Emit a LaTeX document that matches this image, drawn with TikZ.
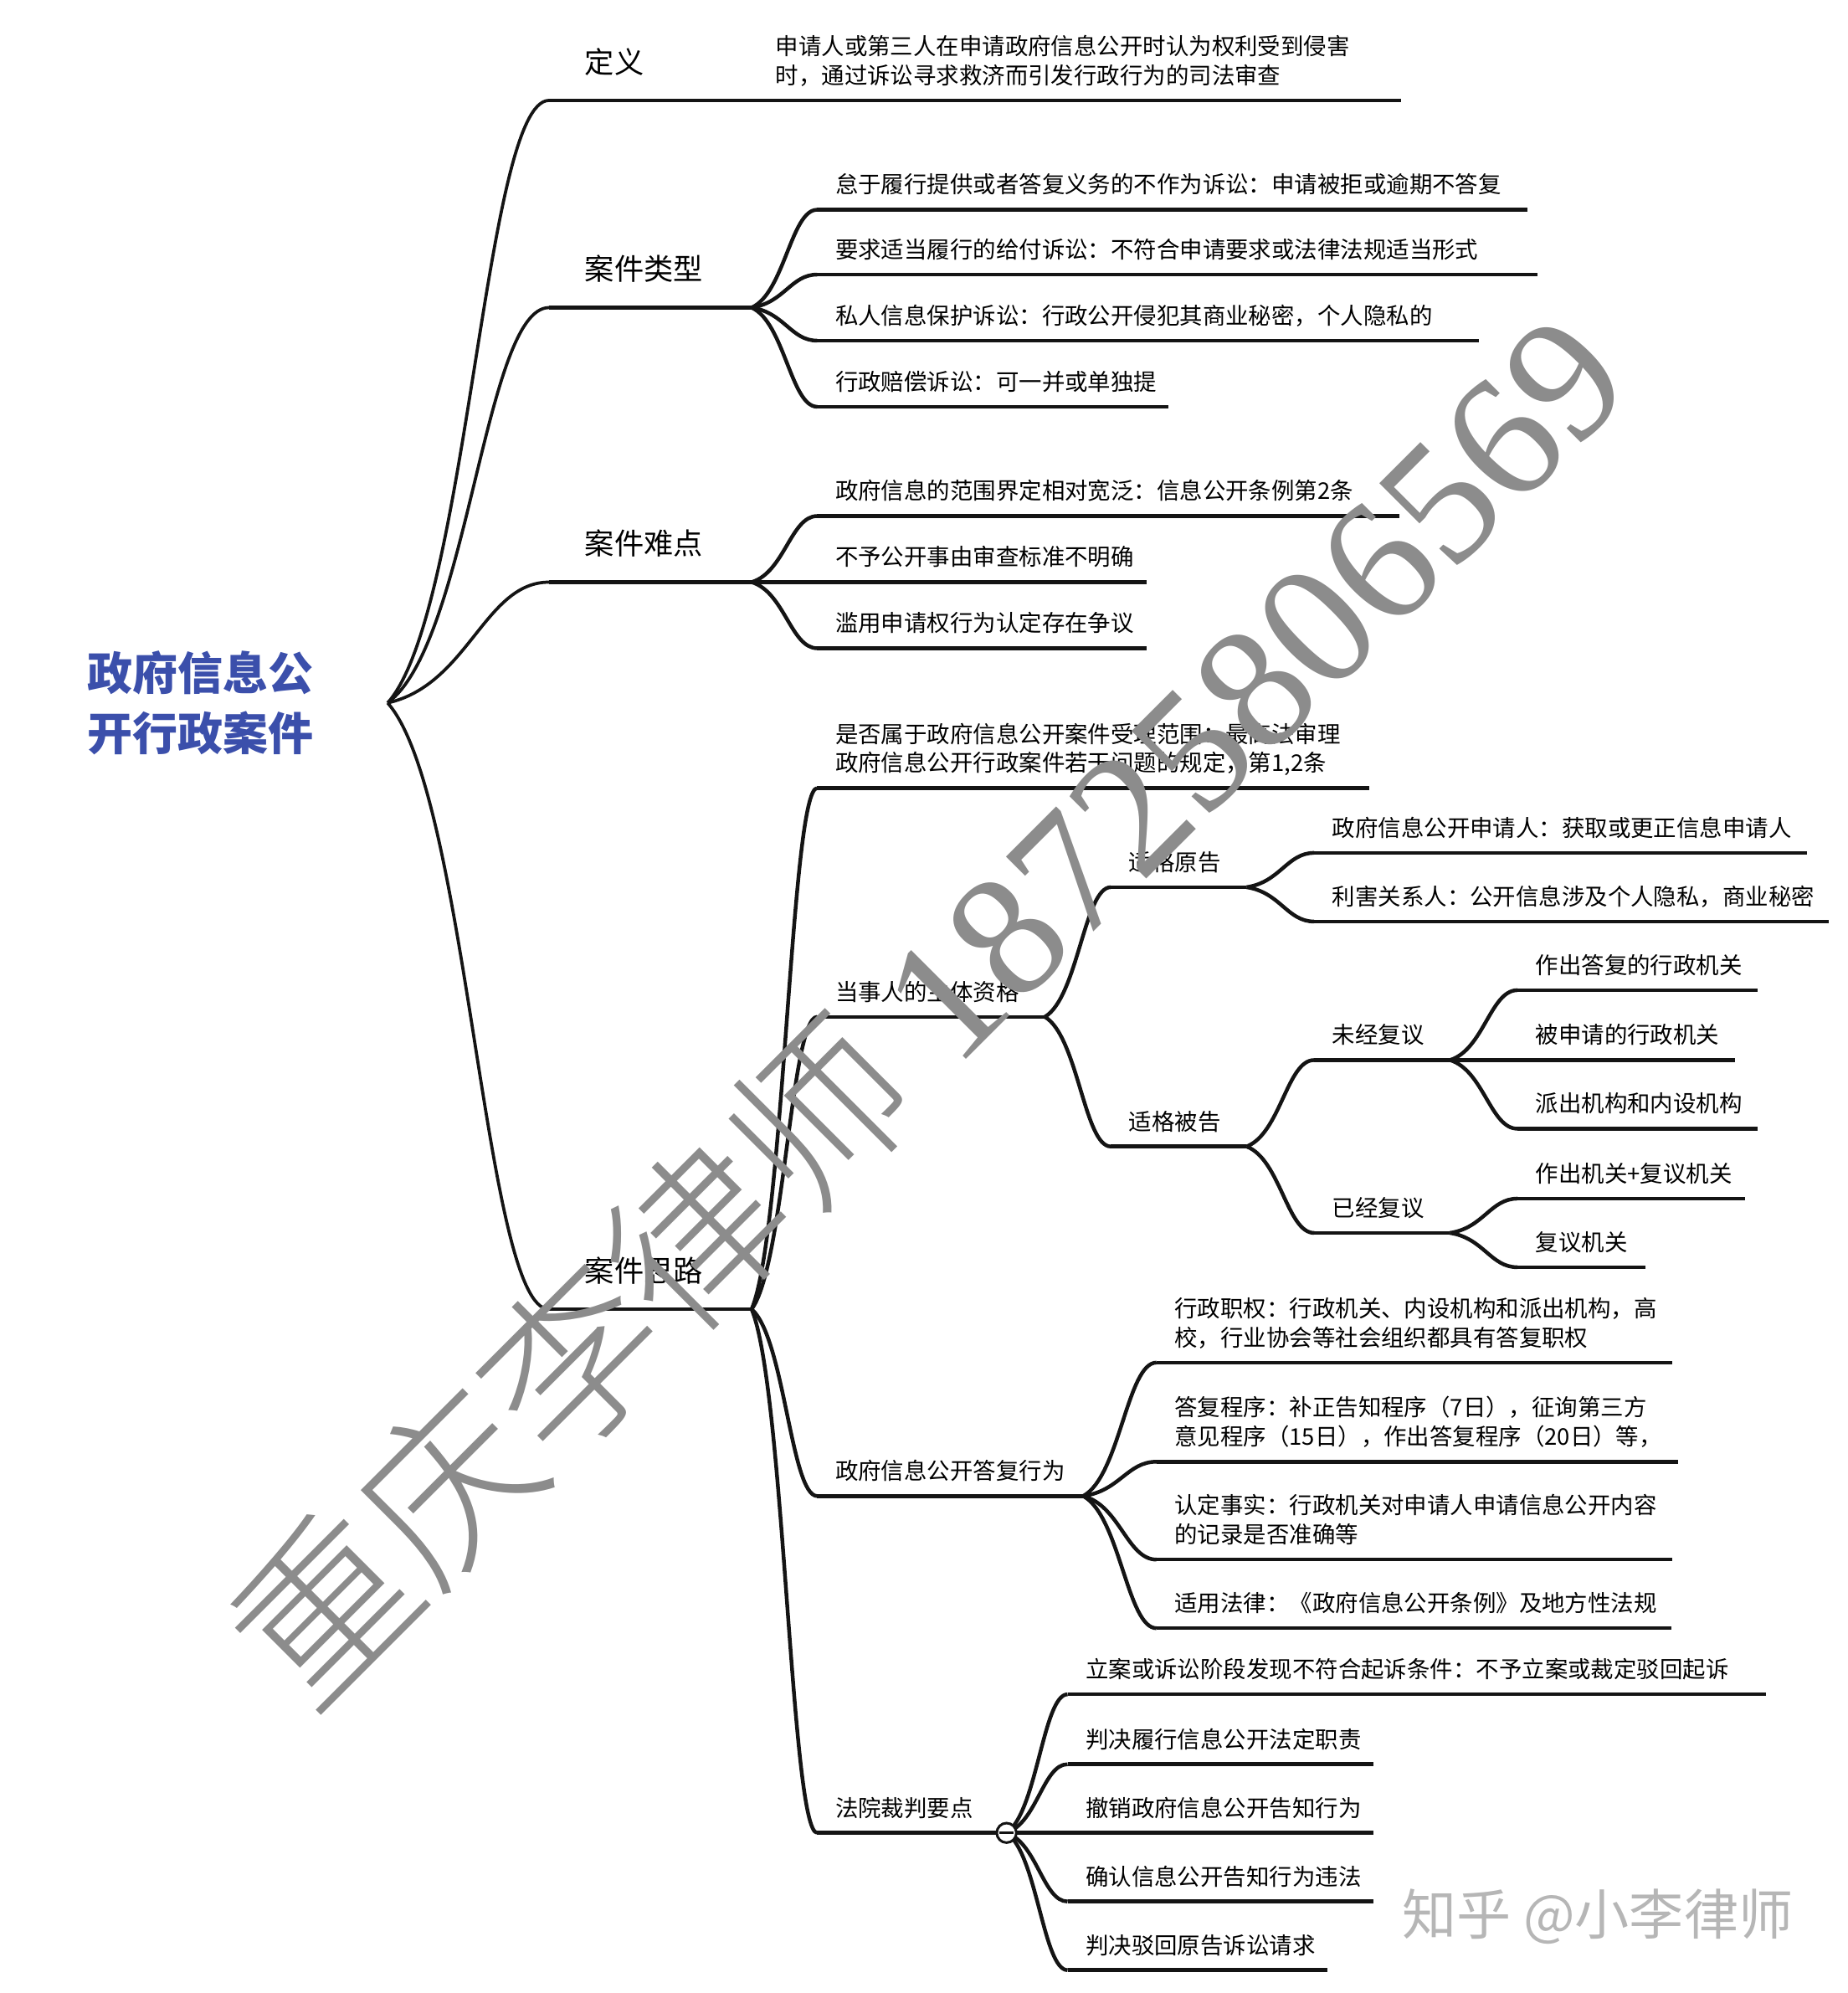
\documentclass[tikz,border=0pt]{standalone}
\usepackage{fontspec}
\setmainfont{Noto Sans CJK SC}
\newfontfamily\digitface{Liberation Serif}
\IfFontExistsTF{Noto Sans CJK SC Light}{\newfontfamily\markfont{Noto Sans CJK SC Light}}{\newfontfamily\markfont{Noto Sans CJK SC}}
\usetikzlibrary{calc}

\definecolor{rootblue}{RGB}{59,79,171}
\definecolor{inkline}{RGB}{20,20,20}
\definecolor{marksgray}{RGB}{140,140,140}
\definecolor{zhihugray}{RGB}{182,182,182}

\newcommand{\stack}[2]{\parbox[b]{#1}{#2}}

\tikzset{
	rootnode/.style={anchor=east, align=left, inner xsep=1.45cm, text=rootblue, font=\fontsize{25.3}{34}\selectfont\bfseries},
	mainnode/.style={anchor=south west, inner xsep=0.7cm, inner ysep=0.53cm, text depth=0pt, font=\fontsize{16.5}{20}\selectfont, execute at end node={\hspace*{0.25cm}}},
	subnode/.style={anchor=south west, inner xsep=0.35cm, inner ysep=0.315cm, text depth=0pt, font=\fontsize{12.85}{16.3}\selectfont, execute at end node={\hspace*{#1}}},
	subnode/.default=0cm,
	wire/.style={draw=inkline, line width=2.1pt},
	curvy/.style={to path={let \p1=(\tikztostart), \p2=(\tikztotarget) in .. controls ({\x1+0.5*(\x2-\x1)},{\y1+0.15*(\y2-\y1)}) and ({\x2-0.4*(\x2-\x1)},\y2) .. (\p2)}},
}

\begin{document}
\begin{tikzpicture}[x=0.025cm, y=-0.025cm]
	\useasboundingbox (0,0) rectangle (1454,1568);

	\node[rootnode] (root) at (305,553) {政府信息公\\开行政案件};

	\node[mainnode] (def) at (432,79) {定义};
	\node[mainnode] (kind) at (432,242) {案件类型};
	\node[mainnode] (hard) at (432,458) {案件难点};
	\node[mainnode] (plan) at (432,1030) {案件思路};

	\node[subnode] (defn) at (596,79) {\stack{11.95cm}{申请人或第三人在申请政府信息公开时认为权利受到侵害\\时，通过诉讼寻求救济而引发行政行为的司法审查}};

	\node[subnode=0.15cm] (k1) at (643,165) {怠于履行提供或者答复义务的不作为诉讼：申请被拒或逾期不答复};
	\node[subnode=0.8cm] (k2) at (643,216) {要求适当履行的给付诉讼：不符合申请要求或法律法规适当形式};
	\node[subnode=0.55cm] (k3) at (643,268) {私人信息保护诉讼：行政公开侵犯其商业秘密，个人隐私的};
	\node[subnode=-0.125cm] (k4) at (643,320) {行政赔偿诉讼：可一并或单独提};

	\node[subnode=0.55cm] (h1) at (643,406) {政府信息的范围界定相对宽泛：信息公开条例第2条};
	\node[subnode=-0.1cm] (h2) at (643,458) {不予公开事由审查标准不明确};
	\node[subnode=-0.1cm] (h3) at (643,510) {滥用申请权行为认定存在争议};

	\node[subnode] (p1) at (643,620) {\stack{10.15cm}{是否属于政府信息公开案件受理范围：最高法审理\\政府信息公开行政案件若干问题的规定，第1,2条}};
	\node[subnode=0.15cm] (p2) at (643,800) {当事人的主体资格};
	\node[subnode] (p3) at (643,1177) {政府信息公开答复行为};
	\node[subnode=0.3cm] (p4) at (643,1442) {法院裁判要点};

	\node[subnode=0.15cm] (a) at (874,698) {适格原告};
	\node[subnode=0.15cm] (b) at (874,902) {适格被告};
	\node[subnode=-0.05cm] (a1) at (1034,671) {政府信息公开申请人：获取或更正信息申请人};
	\node[subnode=-0.075cm] (a2) at (1034,725) {利害关系人：公开信息涉及个人隐私，商业秘密};
	\node[subnode=0.15cm] (b1) at (1034,834) {未经复议};
	\node[subnode=0.15cm] (b2) at (1034,970) {已经复议};
	\node[subnode=-0.05cm] (b1a) at (1194,779) {作出答复的行政机关};
	\node[subnode=-0.05cm] (b1b) at (1194,834) {被申请的行政机关};
	\node[subnode=-0.05cm] (b1c) at (1194,888) {派出机构和内设机构};
	\node[subnode=-0.1cm] (b2a) at (1194,943) {作出机关+复议机关};
	\node[subnode] (b2b) at (1194,997) {复议机关};

	\node[subnode] (c1) at (910,1072) {\stack{9.425cm}{行政职权：行政机关、内设机构和派出机构，高\\校，行业协会等社会组织都具有答复职权}};
	\node[subnode] (c2) at (910,1150) {\stack{9.55cm}{答复程序：补正告知程序（7日），征询第三方\\意见程序（15日），作出答复程序（20日）等，}};
	\node[subnode] (c3) at (910,1227) {\stack{9.425cm}{认定事实：行政机关对申请人申请信息公开内容\\的记录是否准确等}};
	\node[subnode=-0.075cm] (c4) at (910,1281) {适用法律：《政府信息公开条例》及地方性法规};

	\node[subnode=0.375cm] (d1) at (840,1333) {立案或诉讼阶段发现不符合起诉条件：不予立案或裁定驳回起诉};
	\node[subnode=-0.125cm] (d2) at (840,1388) {判决履行信息公开法定职责};
	\node[subnode=-0.125cm] (d3) at (840,1442) {撤销政府信息公开告知行为};
	\node[subnode=-0.125cm] (d4) at (840,1496) {确认信息公开告知行为违法};
	\node[subnode=-0.125cm] (d5) at (840,1550) {判决驳回原告诉讼请求};

	\foreach \b in {def,kind,hard,plan}
		\draw[wire, line width=1.75pt] (root.east) to[curvy] (\b.south west);

	\foreach \a/\b in {def/defn, kind/k1, kind/k2, kind/k3, kind/k4, hard/h1, hard/h2, hard/h3,
		plan/p1, plan/p2, plan/p3, plan/p4, p2/a, p2/b, a/a1, a/a2, b/b1, b/b2,
		b1/b1a, b1/b1b, b1/b1c, b2/b2a, b2/b2b, p3/c1, p3/c2, p3/c3, p3/c4,
		p4/d1, p4/d2, p4/d3, p4/d4, p4/d5}
		\draw[wire] (\a.south east) to[curvy] (\b.south west);

	\foreach \n in {def,kind,hard,plan,defn,k1,k2,k3,k4,h1,h2,h3,p1,p2,p3,p4,a,b,a1,a2,b1,b2,
		b1a,b1b,b1c,b2a,b2b,c1,c2,c3,c4,d1,d2,d3,d4,d5}
		\draw[wire] (\n.south west) -- (\n.south east);

	\node[circle, draw=inkline, fill=white, line width=1.4pt, minimum size=0.385cm, inner sep=0pt] (fold) at (p4.south east) {};
	\draw[line width=1.4pt, inkline] ([xshift=-0.14cm]fold.center) -- ([xshift=0.14cm]fold.center);

	\node[anchor=base west, rotate=45, inner sep=0pt, text=marksgray, font=\fontsize{98}{98}\markfont] (mark) at (243,1351) {重庆李律师 \digitface 18725806569};
	\node[anchor=west, inner sep=0pt, text=zhihugray, font=\fontsize{30.5}{30.5}\selectfont] (zhihu) at (1103,1508) {知乎 @小李律师};

\end{tikzpicture}
\end{document}
